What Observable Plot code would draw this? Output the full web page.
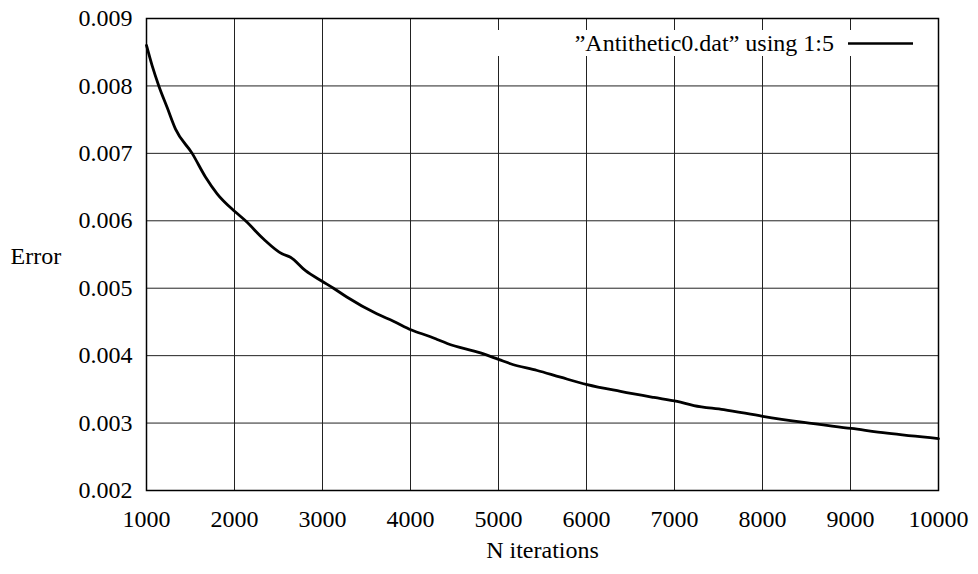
<!DOCTYPE html>
<html><head><meta charset="utf-8">
<script src="https://cdn.jsdelivr.net/npm/d3@7"></script>
<script src="https://cdn.jsdelivr.net/npm/@observablehq/plot@0.6"></script>
<style>body{margin:0;background:#fff} svg{display:block}</style>
</head><body><div id="chart"></div>
<script>
const iterations = [1000, 1064, 1140, 1235, 1330, 1519, 1670, 1803, 2011, 2125, 2330, 2540, 2636, 2807, 3000, 3125, 3276, 3617, 3806, 4011, 4227, 4303, 4417, 4795, 5008, 5136, 5440, 5705, 6008, 6386, 6765, 7030, 7220, 7560, 8003, 8470, 9011, 9415, 10000];
const errors = [0.00860, 0.00830, 0.00800, 0.00768, 0.00736, 0.00700, 0.00665, 0.00640, 0.00613, 0.00600, 0.00573, 0.00551, 0.00546, 0.00526, 0.00510, 0.00500, 0.00487, 0.00462, 0.00451, 0.00438, 0.00428, 0.00424, 0.00418, 0.00404, 0.00394, 0.00388, 0.00378, 0.00368, 0.00357, 0.00347, 0.00338, 0.00332, 0.00326, 0.00320, 0.00310, 0.00301, 0.00292, 0.00285, 0.00277];
const xTicks = [1000, 2000, 3000, 4000, 5000, 6000, 7000, 8000, 9000, 10000];
const yTicks = [0.002, 0.003, 0.004, 0.005, 0.006, 0.007, 0.008, 0.009];
const seriesLabel = "\u201DAntithetic0.dat\u201D using 1:5";
const xLabel = "N iterations";
const yLabel = "Error";

const data = iterations.map((n, i) => ({n, e: errors[i]}));
const FONT = "Liberation Serif, DejaVu Serif, serif";

const chart = Plot.plot({
  width: 978, height: 574,
  marginLeft: 146, marginRight: 40, marginTop: 18, marginBottom: 84,
  style: {background: "#fff", color: "#000", overflow: "visible"},
  x: {domain: [1000, 10000]},
  y: {domain: [0.002, 0.009]},
  marks: [
    Plot.gridX(xTicks, {stroke: "#222", strokeOpacity: 1, strokeWidth: 1}),
    Plot.gridY(yTicks, {stroke: "#222", strokeOpacity: 1, strokeWidth: 1}),
    Plot.axisX(xTicks, {tickSize: 0, tickPadding: 19, tickFormat: d => String(d), label: null, fontSize: 24}),
    Plot.axisY(yTicks, {tickSize: 0, tickPadding: 14, tickFormat: d => d.toFixed(3), label: null, fontSize: 24}),
    Plot.frame({stroke: "#000", strokeWidth: 1.5}),
    Plot.line(data, {x: "n", y: "e", stroke: "#000", strokeWidth: 2.8, curve: "monotone-x"}),
    Plot.text([yLabel], {frameAnchor: "left", dx: -136, dy: 2, textAnchor: "start", fontSize: 24}),
    Plot.text([xLabel], {frameAnchor: "bottom", dy: 67, fontSize: 24})
  ]
});

const svg = d3.select(chart);
const key = svg.append("g");
key.append("rect").attr("x", 490).attr("y", 30).attr("width", 436).attr("height", 26).attr("fill", "#fff");
key.append("text").attr("x", 834).attr("y", 43).attr("dy", "0.32em").attr("text-anchor", "end")
  .attr("font-size", 24).text(seriesLabel);
key.append("line").attr("x1", 848).attr("x2", 913).attr("y1", 43.5).attr("y2", 43.5)
  .attr("stroke", "#000").attr("stroke-width", 2.5);

svg.attr("font-family", FONT);
svg.selectAll("text").attr("font-family", FONT).style("font-family", FONT);

document.getElementById("chart").appendChild(chart);
</script>
</body></html>
